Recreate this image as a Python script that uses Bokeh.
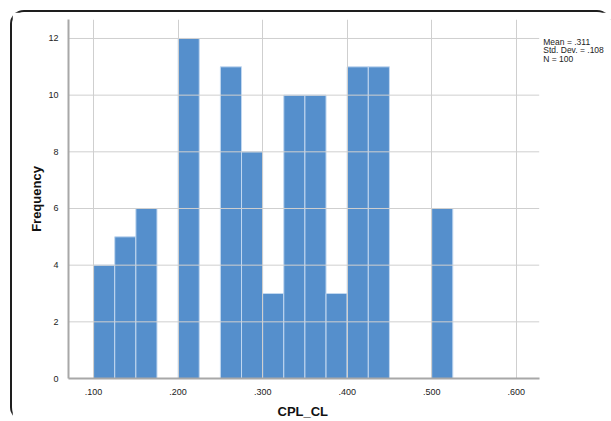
from bokeh.plotting import figure
from bokeh.models import FixedTicker, Label, Range1d, Title
from bokeh.embed import file_html
from bokeh.resources import INLINE

# Data
bin_left = [0.100, 0.125, 0.150, 0.175, 0.200, 0.225, 0.250, 0.275, 0.300,
            0.325, 0.350, 0.375, 0.400, 0.425, 0.450, 0.475, 0.500]
counts = [4, 5, 6, 0, 12, 0, 11, 8, 3, 10, 10, 3, 11, 11, 0, 0, 6]
bin_width = 0.025
x_ticks = [0.1, 0.2, 0.3, 0.4, 0.5, 0.6]
x_tick_labels = [".100", ".200", ".300", ".400", ".500", ".600"]
y_ticks = [0, 2, 4, 6, 8, 10, 12]
stats_lines = ["Mean = .311", "Std. Dev. = .108", "N = 100"]
x_title = "CPL_CL"
y_title = "Frequency"

FONT = "Liberation Sans"
X_START, X_AXIS_END, X_FRAME_END = 0.0703, 0.6272, 0.7151
Y_END = 12.67

p = figure(width=601, height=411, output_backend="svg", toolbar_location=None,
           x_range=Range1d(X_START, X_FRAME_END), y_range=Range1d(0, Y_END),
           min_border_left=56, min_border_right=0, min_border_top=7,
           min_border_bottom=43)
p.styles = {"margin-left": "10px", "margin-top": "10px",
            "border-top": "2px solid #1e1e1e", "border-left": "2px solid #1e1e1e",
            "border-right": "none", "border-bottom": "none",
            "border-radius": "14px", "box-sizing": "border-box"}

p.outline_line_color = None
p.background_fill_color = "white"

rights = [l + bin_width for l in bin_left]
p.quad(left=bin_left, right=rights, bottom=0, top=counts,
       fill_color="#558fcc", line_color="#c2d8f0", line_width=1, level="underlay")

p.xaxis.ticker = FixedTicker(ticks=x_ticks)
p.xaxis.major_label_overrides = {t: s for t, s in zip(x_ticks, x_tick_labels)}
p.xaxis.bounds = (X_START, X_AXIS_END)
p.yaxis.ticker = FixedTicker(ticks=y_ticks)

for ax in (p.xaxis, p.yaxis):
    ax.axis_line_color = "#a8a8a8"
    ax.axis_line_width = 2
    ax.major_tick_line_color = None
    ax.minor_tick_line_color = None
    ax.major_label_text_font = FONT
    ax.major_label_text_font_size = "9px"
    ax.major_label_text_color = "#222222"
    ax.axis_label_text_font = FONT
    ax.axis_label_text_font_style = "bold"
    ax.axis_label_text_font_size = "13px"
    ax.axis_label_text_color = "#111111"

p.yaxis.axis_label = y_title
p.xaxis.major_label_standoff = 4
p.yaxis.major_label_standoff = 4
p.yaxis.axis_label_standoff = 1

# x-axis title, centred under the part of the frame that carries the axis
p.add_layout(Title(text=x_title, align="left", offset=209, standoff=9,
                   text_font=FONT, text_font_style="bold",
                   text_font_size="13px", text_color="#111111"), "below")

# grid lines: vertical at the x ticks, horizontal ones stop where the axis ends
p.xgrid.grid_line_color = "#cfcfcf"
p.xgrid.grid_line_width = 1
p.xgrid.level = "underlay"
p.ygrid.visible = False
p.segment(x0=[X_START] * len(y_ticks), x1=[X_AXIS_END] * len(y_ticks),
          y0=y_ticks, y1=y_ticks, line_color="#cfcfcf", line_width=1,
          level="underlay")

for i, s in enumerate(stats_lines):
    p.add_layout(Label(x=X_AXIS_END + 0.0048, y=Y_END - 0.6 - i * 0.3, text=s,
                       text_font=FONT, text_font_size="8.5px",
                       text_color="#222222", text_baseline="top"))

open("out.html", "w").write(file_html(p, INLINE))
